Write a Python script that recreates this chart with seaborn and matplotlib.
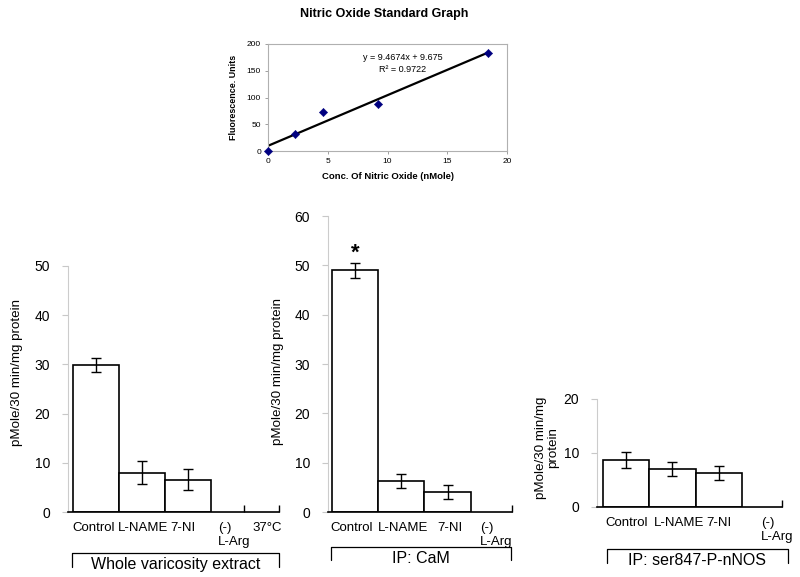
import numpy as np
import pandas as pd
import matplotlib
matplotlib.use("Agg")
import matplotlib.pyplot as plt
from matplotlib.lines import Line2D
import seaborn as sns

sns.set_style("white")
plt.rcParams['font.family'] = ['Liberation Sans', 'DejaVu Sans']
plt.rcParams['text.color'] = 'black'
plt.rcParams['axes.labelcolor'] = 'black'
plt.rcParams['xtick.labelcolor'] = 'black'
plt.rcParams['ytick.labelcolor'] = 'black'

# ---- data ----
std_conc = [0.0, 2.3, 4.6, 9.2, 18.4]
std_fluor = [0, 32, 72, 87, 184]
eq_text = "y = 9.4674x + 9.675"
r2_text = "R² = 0.9722"

bar_cats = ["Control", "L-NAME", "7-NI"]
whole_vals = [29.9, 8.0, 6.6]
whole_err = [1.5, 2.3, 2.2]
cam_vals = [49.0, 6.3, 4.0]
cam_err = [1.5, 1.4, 1.4]
ser_vals = [8.7, 7.0, 6.3]
ser_err = [1.4, 1.3, 1.3]

whole_labels = ["Control", "L-NAME", "7-NI", "(-)\nL-Arg", "37°C"]
cam_labels = ["Control", "L-NAME", "7-NI", "(-)\nL-Arg"]
ser_labels = ["Control", "L-NAME", "7-NI", "(-)\nL-Arg"]
group_titles = ["Whole varicosity extract", "IP: CaM", "IP: ser847-P-nNOS"]
ylab = "pMole/30 min/mg protein"
ylab3 = "pMole/30 min/mg\nprotein"

W, H = 800, 577
fig = plt.figure(figsize=(8, 5.77), dpi=100)

def fr(left, right, top, bottom):
    return [left / W, 1 - bottom / H, (right - left) / W, (bottom - top) / H]

# ---- standard graph ----
ax0 = fig.add_axes(fr(268, 507, 44, 151))
df_std = pd.DataFrame({"x": std_conc, "y": std_fluor})
sns.regplot(data=df_std, x="x", y="y", ax=ax0, scatter=False, ci=None, truncate=True,
            line_kws=dict(color="black", lw=1.6))
sns.scatterplot(data=df_std, x="x", y="y", ax=ax0, marker="D", s=18,
                color="#000080", edgecolor="#000080", zorder=5, clip_on=False)
ax0.set_xlim(0, 20)
ax0.set_ylim(0, 200)
ax0.set_xticks([0, 5, 10, 15, 20])
ax0.set_yticks([0, 50, 100, 150, 200])
for s in ax0.spines.values():
    s.set_color("#b0b0b0")
    s.set_linewidth(0.8)
ax0.tick_params(axis="both", labelsize=6, length=2, width=0.6, color="#909090",
                labelcolor="black", pad=3, direction="out")
ax0.tick_params(left=True, bottom=True)
ax0.set_xlabel("Conc. Of Nitric Oxide (nMole)", fontsize=6.8, fontweight="bold", labelpad=5)
ax0.set_ylabel("Fluorescence. Units", fontsize=6.4, fontweight="bold", labelpad=6)
ax0.text(11.3, 174, eq_text, fontsize=6.5, ha="center", va="center")
ax0.text(11.3, 152, r2_text, fontsize=6.5, ha="center", va="center")
fig.text(384 / W, 1 - 14 / H, "Nitric Oxide Standard Graph", fontsize=9, fontweight="bold",
         ha="center", va="center")

# ---- bar panels ----
def bar_panel(rect, vals, errs, ymax, ystep, xlim, label_pos, labels, bound_ticks,
              ylabel, ylab_xy, ylab_fs):
    ax = fig.add_axes(rect)
    df = pd.DataFrame({"cat": bar_cats, "val": vals})
    sns.barplot(data=df, x="cat", y="val", ax=ax, color="white", edgecolor="black",
                linewidth=1.2, width=1.0, errorbar=None, saturation=1)
    ax.errorbar(range(len(vals)), vals, yerr=errs, fmt="none", ecolor="black",
                elinewidth=1.0, capsize=3.5, capthick=1.0)
    ax.set_xlim(*xlim)
    ax.set_ylim(0, ymax)
    ax.set_yticks(np.arange(0, ymax + 0.1, ystep))
    ax.set_xticks(label_pos)
    ax.set_xticklabels(labels, fontsize=9.5, multialignment="left")
    ax.set_xticks(bound_ticks, minor=True)
    ax.tick_params(axis="x", which="major", length=0, pad=7, labelcolor="black")
    ax.tick_params(axis="x", which="minor", length=5, width=1.0, direction="in",
                   color="black", bottom=True)
    ax.tick_params(axis="y", labelsize=10, length=4, width=0.8, color="#c8c8c8",
                   labelcolor="black", pad=9, left=True, direction="out")
    for s in ["top", "right"]:
        ax.spines[s].set_visible(False)
    ax.spines["left"].set_color("#cccccc")
    ax.spines["left"].set_linewidth(0.8)
    ax.spines["bottom"].set_color("black")
    ax.spines["bottom"].set_linewidth(1.2)
    ax.set_xlabel("")
    ax.set_ylabel(ylabel, fontsize=ylab_fs, linespacing=1.0, color="black")
    ax.yaxis.set_label_coords(*ylab_xy)
    return ax

ax1 = bar_panel(fr(68, 279, 266, 512), whole_vals, whole_err, 50, 10, (-0.61, 3.98),
                [-0.05, 1.03, 1.9, 3.0, 3.72], whole_labels, [3.22, 3.98],
                ylab, (-0.215, 0.569), 9.6)
ax2 = bar_panel(fr(328, 512, 216, 512), cam_vals, cam_err, 60, 10, (-0.58, 3.39),
                [-0.08, 1.05, 2.05, 3.05], cam_labels, [3.39],
                ylab, (-0.24, 0.473), 9.6)
ax3 = bar_panel(fr(597, 782, 399, 507), ser_vals, ser_err, 20, 10, (-0.63, 3.37),
                [0.0, 1.14, 2.0, 3.26], ser_labels, [3.37],
                ylab3, (-0.205, 0.546), 9.6)
ax2.text(0, 52.4, "*", fontsize=16, fontweight="bold", ha="center", va="center")

# ---- group brackets ----
def bracket(x0, x1, ytop, ybot, text, ybase):
    xs = [x0 / W, x0 / W, x1 / W, x1 / W]
    ys = [1 - ybot / H, 1 - ytop / H, 1 - ytop / H, 1 - ybot / H]
    fig.add_artist(Line2D(xs, ys, color="black", lw=0.9, transform=fig.transFigure))
    fig.text((x0 + x1) / 2 / W, 1 - ybase / H, text, fontsize=11.5, ha="center", va="baseline")

bracket(72, 279, 553, 567, group_titles[0], 569)
bracket(331, 511, 547, 560, group_titles[1], 563)
bracket(607, 788, 549, 563, group_titles[2], 565)

fig.savefig("out.png", dpi=100, facecolor="white")
